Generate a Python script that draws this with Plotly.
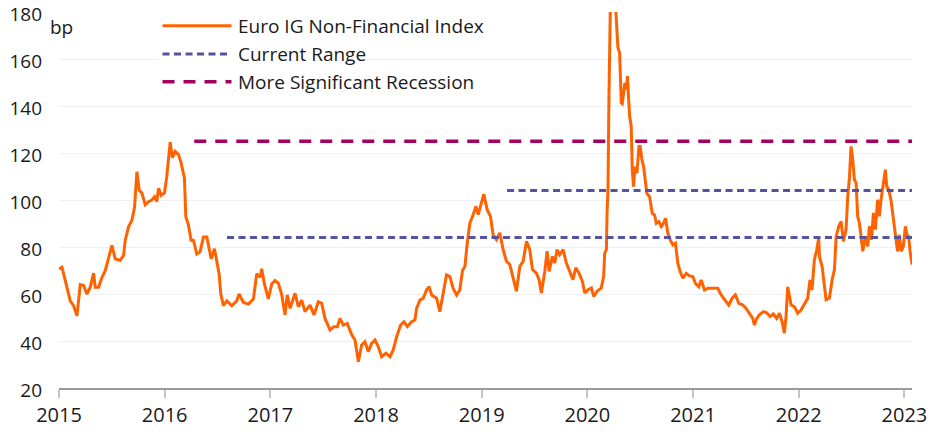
import plotly.graph_objects as go

# ---------------- data ----------------
years = [
    2015.000, 2015.028, 2015.044, 2015.075, 2015.107, 2015.138, 2015.170, 2015.201, 2015.233, 2015.264,
    2015.296, 2015.327, 2015.343, 2015.375, 2015.406, 2015.438, 2015.469, 2015.501, 2015.532, 2015.579,
    2015.611, 2015.627, 2015.658, 2015.690, 2015.715, 2015.737, 2015.759, 2015.784, 2015.816, 2015.847,
    2015.879, 2015.904, 2015.926, 2015.942, 2015.967, 2015.998, 2016.020, 2016.052, 2016.074, 2016.099,
    2016.131, 2016.156, 2016.187, 2016.200, 2016.225, 2016.250, 2016.272, 2016.304, 2016.335, 2016.367,
    2016.399, 2016.421, 2016.440, 2016.471, 2016.493, 2016.515, 2016.531, 2016.556, 2016.588, 2016.635,
    2016.682, 2016.704, 2016.745, 2016.792, 2016.840, 2016.871, 2016.903, 2016.918, 2016.944, 2016.981,
    2017.013, 2017.044, 2017.076, 2017.108, 2017.139, 2017.160, 2017.187, 2017.234, 2017.265, 2017.297,
    2017.328, 2017.376, 2017.413, 2017.454, 2017.486, 2017.517, 2017.565, 2017.602, 2017.634, 2017.659,
    2017.690, 2017.728, 2017.770, 2017.801, 2017.833, 2017.864, 2017.895, 2017.927, 2017.958, 2017.990,
    2018.021, 2018.053, 2018.094, 2018.132, 2018.163, 2018.195, 2018.233, 2018.264, 2018.296, 2018.336,
    2018.368, 2018.384, 2018.415, 2018.447, 2018.478, 2018.503, 2018.526, 2018.573, 2018.604, 2018.636,
    2018.667, 2018.699, 2018.730, 2018.762, 2018.793, 2018.819, 2018.841, 2018.863, 2018.888, 2018.920,
    2018.945, 2018.967, 2018.998, 2019.020, 2019.052, 2019.083, 2019.108, 2019.140, 2019.171, 2019.203,
    2019.234, 2019.266, 2019.298, 2019.329, 2019.361, 2019.392, 2019.424, 2019.455, 2019.480, 2019.518,
    2019.543, 2019.565, 2019.597, 2019.619, 2019.638, 2019.669, 2019.691, 2019.713, 2019.738, 2019.770,
    2019.801, 2019.833, 2019.864, 2019.890, 2019.921, 2019.953, 2019.975, 2020.006, 2020.038, 2020.060,
    2020.091, 2020.132, 2020.154, 2020.164, 2020.180, 2020.186, 2020.195, 2020.204, 2020.210, 2020.220,
    2020.245, 2020.265, 2020.274, 2020.289, 2020.305, 2020.311, 2020.321, 2020.330, 2020.343, 2020.355,
    2020.368, 2020.380, 2020.387, 2020.400, 2020.415, 2020.425, 2020.437, 2020.450, 2020.469, 2020.488,
    2020.500, 2020.516, 2020.532, 2020.551, 2020.563, 2020.589, 2020.614, 2020.636, 2020.652, 2020.677,
    2020.699, 2020.721, 2020.740, 2020.762, 2020.784, 2020.809, 2020.834, 2020.856, 2020.878, 2020.904,
    2020.935, 2020.967, 2020.998, 2021.023, 2021.055, 2021.077, 2021.108, 2021.140, 2021.171, 2021.203,
    2021.234, 2021.266, 2021.307, 2021.338, 2021.370, 2021.401, 2021.433, 2021.471, 2021.502, 2021.534,
    2021.565, 2021.581, 2021.603, 2021.628, 2021.666, 2021.697, 2021.729, 2021.760, 2021.792, 2021.817,
    2021.843, 2021.864, 2021.880, 2021.896, 2021.912, 2021.928, 2021.959, 2021.990, 2022.022, 2022.054,
    2022.085, 2022.107, 2022.126, 2022.148, 2022.170, 2022.189, 2022.196, 2022.221, 2022.243, 2022.259,
    2022.291, 2022.316, 2022.338, 2022.354, 2022.379, 2022.401, 2022.423, 2022.448, 2022.464, 2022.480,
    2022.495, 2022.511, 2022.527, 2022.543, 2022.558, 2022.574, 2022.590, 2022.606, 2022.631, 2022.653,
    2022.669, 2022.688, 2022.707, 2022.725, 2022.747, 2022.763, 2022.779, 2022.801, 2022.820, 2022.833,
    2022.851, 2022.873, 2022.889, 2022.905, 2022.921, 2022.936, 2022.952, 2022.971, 2022.990, 2023.009,
    2023.025, 2023.040, 2023.056, 2023.072,
]

spread_bp = [
    70.7, 71.4, 68.6, 62.9, 57.0, 55.0, 50.7, 64.0, 63.6, 60.0,
    62.9, 68.9, 62.9, 62.9, 67.0, 70.0, 75.7, 80.7, 75.0, 74.3,
    76.4, 82.9, 88.6, 91.4, 97.0, 112.0, 104.0, 103.0, 98.0, 99.3,
    100.0, 101.4, 99.3, 105.0, 102.0, 103.0, 110.0, 124.6, 118.0, 120.7,
    119.3, 115.7, 109.3, 92.9, 89.3, 82.9, 82.9, 77.0, 77.9, 84.3,
    84.3, 80.0, 75.0, 79.3, 73.6, 68.6, 60.0, 55.0, 57.1, 55.0,
    57.1, 60.0, 56.4, 55.7, 57.9, 68.6, 67.1, 70.7, 64.3, 57.9,
    64.3, 65.7, 64.5, 59.6, 51.1, 59.6, 53.9, 60.3, 54.6, 57.4,
    52.5, 55.3, 51.1, 56.7, 56.0, 49.6, 44.7, 46.1, 46.1, 49.6,
    46.8, 47.5, 42.6, 40.4, 31.2, 38.3, 39.7, 35.5, 39.0, 40.4,
    37.6, 33.3, 34.8, 33.3, 36.2, 41.8, 46.8, 48.2, 46.1, 48.2,
    48.9, 53.9, 57.4, 58.2, 61.7, 63.1, 59.6, 58.2, 52.5, 59.6,
    68.1, 67.4, 62.4, 59.6, 61.7, 70.2, 71.6, 81.6, 90.2, 93.8,
    97.3, 93.8, 99.4, 102.5, 95.9, 93.0, 85.2, 83.1, 86.0, 78.9,
    73.9, 72.5, 66.8, 61.1, 71.8, 73.9, 82.4, 78.9, 70.4, 68.9,
    66.1, 60.4, 69.6, 78.2, 69.6, 76.0, 73.2, 78.9, 76.7, 78.9,
    73.2, 69.6, 66.1, 71.1, 68.9, 65.4, 60.4, 61.8, 62.6, 59.0,
    61.1, 62.6, 67.5, 77.4, 78.9, 94.5, 104.0, 142.7, 168.3, 190.0,
    200.0, 185.0, 176.9, 164.8, 162.6, 154.0, 141.3, 141.0, 146.3, 149.8,
    147.0, 152.7, 145.6, 135.6, 131.3, 112.8, 105.7, 114.2, 111.4, 122.8,
    122.8, 117.1, 114.2, 107.8, 102.8, 101.4, 94.3, 93.6, 90.1, 90.8,
    88.7, 90.1, 92.2, 85.8, 83.0, 80.9, 81.6, 73.0, 69.5, 66.7,
    68.8, 67.7, 67.4, 64.5, 63.1, 66.0, 61.7, 62.4, 62.4, 62.4,
    62.4, 59.6, 57.4, 55.3, 58.2, 59.6, 56.0, 55.3, 53.9, 51.8,
    49.6, 46.8, 49.6, 51.1, 52.5, 52.0, 50.4, 51.5, 49.6, 51.8,
    48.2, 43.3, 50.4, 63.1, 58.9, 55.3, 54.6, 51.8, 53.2, 56.0,
    58.2, 66.0, 61.7, 74.5, 78.6, 83.7, 76.0, 71.8, 63.3, 57.6,
    58.3, 66.1, 70.4, 84.5, 88.8, 90.9, 82.4, 87.4, 101.6, 109.4,
    122.8, 117.2, 108.7, 107.2, 93.0, 90.2, 84.5, 78.2, 84.5, 80.3,
    88.8, 83.1, 94.5, 87.4, 100.1, 93.0, 100.1, 106.5, 112.9, 105.8,
    104.4, 100.1, 95.2, 88.8, 83.1, 78.2, 85.2, 78.2, 80.3, 88.8,
    85.2, 84.5, 77.4, 72.5,
]

series_names = ["Euro IG Non-Financial Index", "Current Range", "More Significant Recession"]
current_range_levels = [84, 104]
current_range_starts = [2016.59, 2019.24]
recession_levels = [125]
recession_starts = [2016.28]
x_tick_years = [2015, 2016, 2017, 2018, 2019, 2020, 2021, 2022, 2023]
x_end = 2023.072
y_min, y_max, y_step = 20, 180, 20
unit_label = "bp"

# ---------------- styling ----------------
ORANGE = "#FF6200"
BLUE = "#5552A0"
MAROON = "#A3005F"
FONT = "Open Sans"
TEXT = "#1a1a1a"
W, H = 951, 432
L, R, T, B = 59, 39, 12, 44
PW, PH = W - L - R, H - T - B


def px_x(p):
    return (p - L) / PW


def px_y(p):
    return (H - B - p) / PH


fig = go.Figure()

fig.add_trace(go.Scatter(
    x=years, y=spread_bp, mode="lines", name=series_names[0],
    line=dict(color=ORANGE, width=3), showlegend=False,
))

for lvl, start in zip(current_range_levels, current_range_starts):
    fig.add_trace(go.Scatter(
        x=[start, x_end], y=[lvl, lvl], mode="lines", name=series_names[1],
        line=dict(color=BLUE, width=3, dash="7px,4.5px"), showlegend=False,
    ))

for lvl, start in zip(recession_levels, recession_starts):
    fig.add_trace(go.Scatter(
        x=[start, x_end], y=[lvl, lvl], mode="lines", name=series_names[2],
        line=dict(color=MAROON, width=3.5, dash="12px,9px"), showlegend=False,
    ))

# ---------------- custom legend (long line samples as in the reference) ----------------
shapes = [dict(type="rect", xref="paper", yref="paper",
               x0=px_x(158), x1=px_x(367), y0=px_y(68), y1=px_y(48),
               fillcolor="white", line=dict(width=0), layer="above")]
legend_styles = [
    dict(color=ORANGE, width=3, dash="solid"),
    dict(color=BLUE, width=3, dash="7px,4.5px"),
    dict(color=MAROON, width=3.5, dash="12px,9px"),
]
row_y = [25.7, 54.0, 81.7]
annotations = []
for name, st, ry in zip(series_names, legend_styles, row_y):
    shapes.append(dict(type="line", xref="paper", yref="paper",
                       x0=px_x(162.5), x1=px_x(231.5), y0=px_y(ry), y1=px_y(ry),
                       line=st, layer="above"))
    annotations.append(dict(text=name, xref="paper", yref="paper",
                            x=px_x(236), y=px_y(ry), xanchor="left", yanchor="middle",
                            showarrow=False, font=dict(family=FONT, size=19, color=TEXT)))

annotations.append(dict(text=unit_label, xref="paper", yref="paper",
                        x=px_x(48), y=px_y(26.5), xanchor="left", yanchor="middle",
                        showarrow=False, font=dict(family=FONT, size=19, color=TEXT)))

fig.update_layout(
    width=W, height=H,
    margin=dict(l=L, r=R, t=T, b=B, pad=0),
    paper_bgcolor="white", plot_bgcolor="white",
    font=dict(family=FONT, size=19, color=TEXT),
    showlegend=False,
    shapes=shapes,
    annotations=annotations,
    xaxis=dict(
        range=[x_tick_years[0], x_end], automargin=False,
        tickmode="array", tickvals=x_tick_years, ticktext=[str(y) for y in x_tick_years],
        ticks="outside", ticklen=8, tickwidth=2, tickcolor="#c4c4c4",
        showline=True, linecolor="#9a9a9a", linewidth=1.5,
        showgrid=False, zeroline=False, ticklabeloverflow="allow",
        tickfont=dict(family=FONT, size=20, color=TEXT),
    ),
    yaxis=dict(
        range=[y_min, y_max], dtick=y_step, tick0=y_min, automargin=False,
        showgrid=True, gridcolor="#efefef", gridwidth=1,
        showline=False, zeroline=False, ticks="",
        ticklabelstandoff=16, ticklabelshift=2, ticklabeloverflow="allow",
        tickfont=dict(family=FONT, size=19, color=TEXT),
    ),
)

# remove the browser's default 8px page margin so the figure fills the window exactly
fig.write_html(
    "out.html",
    config={"displayModeBar": False},
    post_script="document.body.style.margin='0';document.body.style.overflow='hidden';",
)
